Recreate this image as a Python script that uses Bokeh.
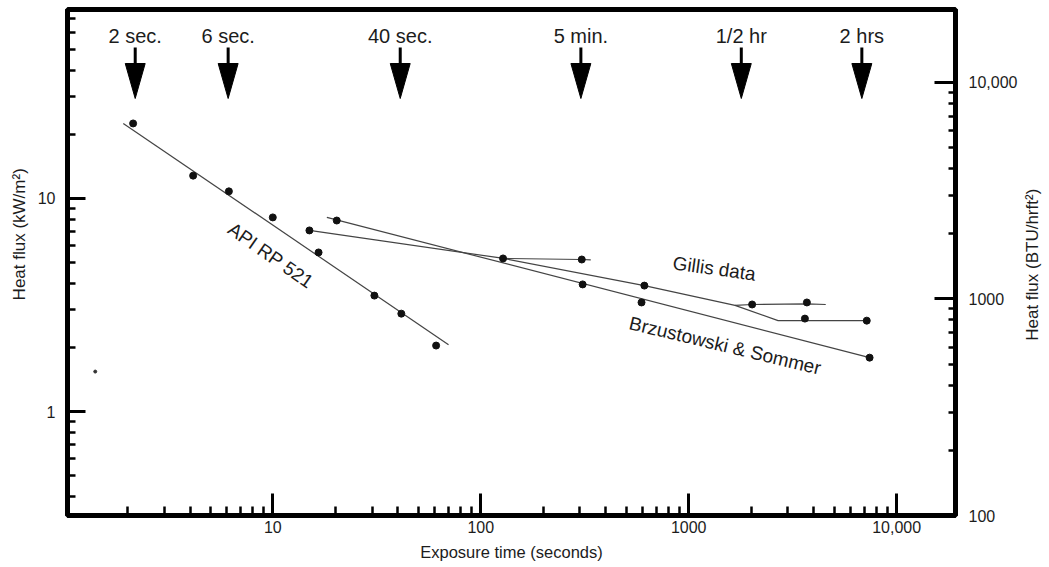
import math
from bokeh.plotting import figure
from bokeh.layouts import row
from bokeh.models import Range1d, LogAxis, FixedTicker, LogScale
from bokeh.embed import file_html
from bokeh.resources import INLINE
from bokeh.core.properties import value

# ---------------- data ----------------
# API RP 521 tolerance points (exposure time s, heat flux kW/m2)
api_t = [2.13, 4.14, 6.15, 10.0, 16.6, 30.8, 41.5, 61.0]
api_q = [22.5, 12.8, 10.8, 8.15, 5.58, 3.5, 2.88, 2.04]
api_fit_t = [1.91, 70.0]
api_fit_q = [22.5, 2.06]

# Gillis data points and connecting lines
gillis_t = [15.0, 128.0, 306.0, 612.0, 2018.0, 3700.0, 3620.0, 7180.0]
gillis_q = [7.08, 5.23, 5.17, 3.9, 3.18, 3.25, 2.73, 2.67]
gillis_main_t = [15.0, 129.0, 612.0, 1670.0, 2690.0, 7180.0]
gillis_main_q = [7.08, 5.23, 3.9, 3.15, 2.67, 2.67]
gillis_branch_t = [1670.0, 2018.0, 3700.0, 4560.0]
gillis_branch_q = [3.15, 3.18, 3.2, 3.18]
gillis_5min_t = [129.0, 306.0, 338.0]
gillis_5min_q = [5.23, 5.17, 5.15]

# Brzustowski & Sommer points and line
bs_t = [20.3, 309.0, 593.0, 7410.0]
bs_q = [7.88, 3.95, 3.25, 1.79]
bs_fit_t = [18.2, 7410.0]
bs_fit_q = [8.15, 1.79]

# stray mark near the left axis
stray_t = [1.40]
stray_q = [1.54]

# exposure-time markers at the top
arrow_t = [2.18, 6.1, 41.0, 303.0, 1790.0, 6800.0]
arrow_labels = ["2 sec.", "6 sec.", "40 sec.", "5 min.", "1/2 hr", "2 hrs"]

# curve labels
curve_label_text = ["API RP 521", "Gillis data", "Brzustowski & Sommer"]
curve_label_t = [9.78, 1327.0, 1496.0]
curve_label_q = [5.40, 4.69, 2.04]
curve_label_angle_deg = [-35.0, -8.0, -13.5]

# axes
X_START, X_END = 1.03, 19180.0
Y_START, Y_END = 0.325, 77.1
BTU_START, BTU_END = 100.0, 21730.0
x_major = [10, 100, 1000, 10000]
x_major_labels = ["10", "100", "1000", "10,000"]
y_major = [1, 10]
y_major_labels = ["1", "10"]
btu_major = [100, 1000, 10000]
btu_major_labels = ["100", "1000", "10,000"]
left_title = "Heat flux (kW/m²)"
right_title = "Heat flux (BTU/hrft²)"
x_title = "Exposure time (seconds)"

# ---------------- layout / style ----------------
H = 565
LW = 30                   # strip for the left-hand title
SW = 28                   # strip for the right-hand title
FL, FT = 67, 9            # frame position on the page
FW, FH = 891, 506
W = 1020 - LW             # main figure width
FONT = "Liberation Sans"
INK = "#1c1c1c"
LINE = "#444444"

p = figure(width=W, height=H, title=None,
           x_axis_type="log", y_axis_type="log",
           x_range=Range1d(X_START, X_END), y_range=Range1d(Y_START, Y_END),
           output_backend="svg", toolbar_location=None,
           min_border_left=FL - LW, min_border_top=FT,
           min_border_right=W - (FL - LW) - FW, min_border_bottom=H - FT - FH)
p.grid.visible = False
p.background_fill_color = "white"
p.border_fill_color = "white"
p.outline_line_color = "black"
p.outline_line_width = 5

def minors(lo, hi):
    out = []
    d = math.floor(math.log10(lo))
    while 10 ** d <= hi:
        for m in range(2, 10):
            v = m * 10 ** d
            if lo < v < hi:
                out.append(v)
        d += 1
    return out

def style_axis(ax, major_in, minor_in, standoff):
    ax.axis_line_width = 5
    ax.axis_line_color = "black"
    ax.major_tick_in = major_in
    ax.major_tick_out = 0
    ax.minor_tick_in = minor_in
    ax.minor_tick_out = 0
    ax.major_tick_line_width = 3
    ax.minor_tick_line_width = 2.5
    ax.major_tick_line_color = "black"
    ax.minor_tick_line_color = "black"
    ax.major_label_text_font = FONT
    ax.major_label_text_font_size = "16px"
    ax.major_label_text_color = INK
    ax.major_label_standoff = standoff

xa = p.xaxis[0]
xa.ticker = FixedTicker(ticks=x_major, minor_ticks=minors(X_START, X_END))
xa.major_label_overrides = {v: s for v, s in zip(x_major, x_major_labels)}
style_axis(xa, 22, 9, 5)
xa.axis_label = x_title
xa.axis_label_text_font = FONT
xa.axis_label_text_font_size = "16.5px"
xa.axis_label_text_font_style = "normal"
xa.axis_label_text_color = INK
xa.axis_label_standoff = 7

ya = p.yaxis[0]
ya.ticker = FixedTicker(ticks=y_major, minor_ticks=minors(Y_START, Y_END))
ya.major_label_overrides = {v: s for v, s in zip(y_major, y_major_labels)}
style_axis(ya, 18, 8, 12)

p.extra_y_ranges = {"btu": Range1d(BTU_START, BTU_END)}
p.extra_y_scales = {"btu": LogScale()}
ra = LogAxis(y_range_name="btu")
ra.ticker = FixedTicker(ticks=btu_major, minor_ticks=[v for v in minors(BTU_START, BTU_END) if v < 10000])
ra.major_label_overrides = {v: s for v, s in zip(btu_major, btu_major_labels)}
style_axis(ra, 21, 7, 13)
p.add_layout(ra, "right")

# ---------------- lines ----------------
for xs, ys in [(api_fit_t, api_fit_q), (gillis_main_t, gillis_main_q),
               (gillis_branch_t, gillis_branch_q), (gillis_5min_t, gillis_5min_q),
               (bs_fit_t, bs_fit_q)]:
    p.line(xs, ys, line_color=LINE, line_width=1.2)

# ---------------- points ----------------
for xs, ys in [(api_t, api_q), (gillis_t, gillis_q), (bs_t, bs_q)]:
    p.scatter(xs, ys, size=7, marker="circle", fill_color="#111111", line_color="#111111")
p.scatter(stray_t, stray_q, size=3, marker="circle", fill_color="#333333", line_color="#333333")

# ---------------- curve labels ----------------
p.text(x=curve_label_t, y=curve_label_q, text=curve_label_text,
       angle=[math.radians(a) for a in curve_label_angle_deg],
       text_align="center", text_baseline="middle",
       text_font=value(FONT), text_font_size="19px", text_color=INK)

# ---------------- exposure-time arrows ----------------
ly0, ly1 = math.log10(Y_START), math.log10(Y_END)
lx0, lx1 = math.log10(X_START), math.log10(X_END)

def y_from_top(px):
    return 10 ** (ly1 - px / FH * (ly1 - ly0))

head_f = 10 ** (10.0 / FW * (lx1 - lx0))
y_lab, y_shaft, y_base, y_tip = y_from_top(26.5), y_from_top(38), y_from_top(54), y_from_top(89)

p.segment(x0=arrow_t, y0=[y_shaft] * len(arrow_t), x1=arrow_t, y1=[y_base] * len(arrow_t),
          line_color="black", line_width=3)
p.patches(xs=[[t / head_f, t * head_f, t] for t in arrow_t],
          ys=[[y_base, y_base, y_tip] for _ in arrow_t],
          fill_color="black", line_color="black", line_width=1)
p.text(x=arrow_t, y=[y_lab] * len(arrow_t), text=arrow_labels,
       text_align="center", text_baseline="middle",
       text_font=value(FONT), text_font_size="20px", text_color=INK)

# ---------------- title strips (both read bottom to top) ----------------
def title_strip(width, cx, cy_from_top, text):
    s = figure(width=width, height=H, title=None, x_range=Range1d(0, width), y_range=Range1d(0, H),
               output_backend="svg", toolbar_location=None,
               min_border_left=0, min_border_right=0, min_border_top=0, min_border_bottom=0)
    s.axis.visible = False
    s.grid.visible = False
    s.outline_line_color = None
    s.background_fill_color = "white"
    s.border_fill_color = "white"
    s.text(x=[cx], y=[H - cy_from_top], text=[text], angle=math.pi / 2,
           text_align="center", text_baseline="middle",
           text_font=value(FONT), text_font_size="17px", text_color=INK)
    return s

left_strip = title_strip(LW, 19, 251, left_title)
right_strip = title_strip(SW, 12, 285, right_title)

layout = row(left_strip, p, right_strip, spacing=0)
open("out.html", "w").write(file_html(layout, INLINE))
